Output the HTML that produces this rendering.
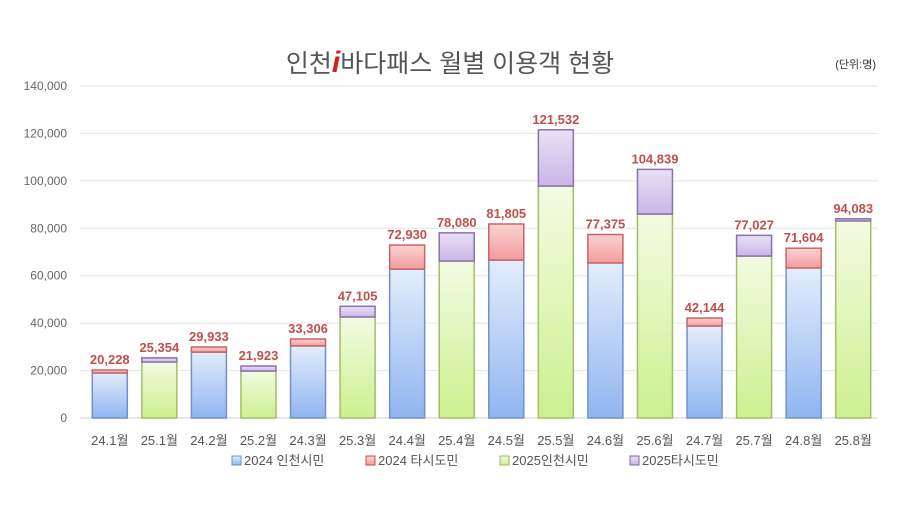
<!DOCTYPE html>
<html><head><meta charset="utf-8">
<style>
html,body{margin:0;padding:0;background:#fff;}
body{width:900px;height:508px;overflow:hidden;font-family:"Liberation Sans","Noto Sans CJK KR",sans-serif;}
svg text{font-family:"Liberation Sans","Noto Sans CJK KR",sans-serif;}
</style></head>
<body>
<svg id="chart" width="900" height="508" viewBox="0 0 900 508">
<defs>
<linearGradient id="gBlue" x1="0" y1="0" x2="0" y2="1"><stop offset="0" stop-color="#e3edfc"/><stop offset="1" stop-color="#8fb5f0"/></linearGradient>
<linearGradient id="gGreen" x1="0" y1="0" x2="0" y2="1"><stop offset="0" stop-color="#f3fbe2"/><stop offset="1" stop-color="#cdf08f"/></linearGradient>
<linearGradient id="gRed" x1="0" y1="0" x2="0" y2="1"><stop offset="0" stop-color="#fbd3d3"/><stop offset="1" stop-color="#f29c9c"/></linearGradient>
<linearGradient id="gPurple" x1="0" y1="0" x2="0" y2="1"><stop offset="0" stop-color="#e9e0f6"/><stop offset="1" stop-color="#c9b6e8"/></linearGradient>
</defs>
<text x="450" y="72" text-anchor="middle" font-size="25" fill="#555">인천<tspan fill="#d42020" font-weight="bold" font-style="italic" font-size="30">i</tspan>바다패스 월별 이용객 현황</text>
<text x="876" y="68" text-anchor="end" font-size="11" fill="#333">(단위:명)</text>
<g id="grid"></g><g id="bars"></g><g id="labels"></g>
<g font-size="13" fill="#555">
<rect x="232" y="456" width="9" height="9" fill="url(#gBlue)" stroke="#6f8fc9"/>
<text x="244" y="465">2024 인천시민</text>
<rect x="366" y="456" width="9" height="9" fill="url(#gRed)" stroke="#c0504d"/>
<text x="378" y="465">2024 타시도민</text>
<rect x="500" y="456" width="9" height="9" fill="url(#gGreen)" stroke="#9bbb59"/>
<text x="512" y="465">2025인천시민</text>
<rect x="630" y="456" width="9" height="9" fill="url(#gPurple)" stroke="#8064a2"/>
<text x="642" y="465">2025타시도민</text>
</g>
</svg>
<script>
const categories=["24.1월","25.1월","24.2월","25.2월","24.3월","25.3월","24.4월","25.4월","24.5월","25.5월","24.6월","25.6월","24.7월","25.7월","24.8월","25.8월"];
const incheonValues=[19000,23600,27800,19800,30400,42600,62800,66200,66600,97800,65400,86000,38800,68300,63300,83100];
const otherValues=[1228,1754,2133,2123,2906,4505,10130,11880,15205,23732,11975,18839,3344,8727,8304,900];
const totalLabels=["20,228","25,354","29,933","21,923","33,306","47,105","72,930","78,080","81,805","121,532","77,375","104,839","42,144","77,027","71,604","94,083"];
const yTicks=[0,20000,40000,60000,80000,100000,120000,140000];
const yTickLabels=["0","20,000","40,000","60,000","80,000","100,000","120,000","140,000"];

const NS="http://www.w3.org/2000/svg";
const y0=418,yTop=86,yMax=140000,plotL=85,plotR=878;
const slot=(plotR-plotL)/categories.length,bw=35;
const yScale=v=>y0-(v/yMax)*(y0-yTop);
const xCenter=i=>plotL+slot*(i+0.5);
function mk(tag,attrs,parent){const e=document.createElementNS(NS,tag);for(const k in attrs)e.setAttribute(k,attrs[k]);parent.appendChild(e);return e;}
const grid=document.getElementById('grid'),bars=document.getElementById('bars'),labels=document.getElementById('labels');
yTicks.forEach((t,i)=>{
  const l=mk('line',{x1:80,x2:plotR,y1:yScale(t),y2:yScale(t),stroke:i===0?'#cfcfcf':'#e4e4e4','stroke-width':1},grid);
  
  
  const tx=mk('text',{x:67,y:yScale(t)+4,'text-anchor':'end','font-size':12,fill:'#666'},grid);
  tx.textContent=yTickLabels[i];
  
  
});
categories.forEach((c,i)=>{
  const is24=c.startsWith('24');
  const x=xCenter(i)-bw/2;
  const b=incheonValues[i],o=otherValues[i];
  const r1=mk('rect',{x:x,y:yScale(b),width:bw,height:y0-yScale(b),fill:is24?'url(#gBlue)':'url(#gGreen)',stroke:is24?'#7391c8':'#a3be6a','stroke-width':1.5},bars);
  
  
  const r2=mk('rect',{x:x,y:yScale(b+o),width:bw,height:yScale(b)-yScale(b+o),fill:is24?'url(#gRed)':'url(#gPurple)',stroke:is24?'#c96464':'#8a72ab','stroke-width':1.5},bars);
  
  
  const vl=mk('text',{x:xCenter(i),y:yScale(b+o)-6,'text-anchor':'middle','font-size':13,'font-weight':'bold',fill:'#c0504d'},labels);
  vl.textContent=totalLabels[i];
  
  
  const xl=mk('text',{x:xCenter(i),y:445,'text-anchor':'middle','font-size':13,fill:'#555'},labels);
  xl.textContent=c;
  
  
});
</script>
</body></html>
